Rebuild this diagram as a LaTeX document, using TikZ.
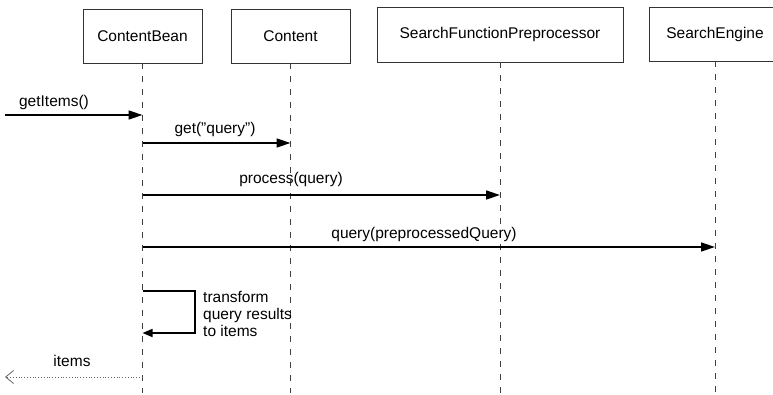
\documentclass[tikz,border=0pt]{standalone}
\usepackage{fontspec}
\setmainfont{Liberation Sans}
\usetikzlibrary{arrows.meta,positioning}

\begin{document}
\begin{tikzpicture}[
		x=1pt, y=-1pt,
		font=\fontsize{15.5}{17}\selectfont,
		object/.style={rectangle,draw=black!80,line width=0.8pt,minimum height=54pt,inner sep=0pt},
		lifeline/.style={draw=black!75,line width=1pt,dash pattern=on 6pt off 7pt},
		call/.style={line width=1.6pt,-{Triangle[length=14pt,width=9pt]}},
		selfcall/.style={line width=1.6pt,-{Triangle[length=10pt,width=8pt]}},
		reply/.style={draw=black!60,line width=0.8pt,dotted,-{Straight Barb[length=8pt,width=13pt]}},
		msglabel/.style={inner sep=1pt}
	]
	\useasboundingbox (0,0) rectangle (773,395);

	% objects
	\node[object,minimum width=119pt] (bean) at (142.5,36) {ContentBean};
	\node[object,minimum width=119pt] (content) at (290.5,36) {Content};
	\node[object,minimum width=246pt,minimum height=55pt] (prep) at (500,34.5) {SearchFunctionPreprocessor};
	\node[object,minimum width=132pt] (engine) at (715,34) {SearchEngine};

	% lifelines
	\coordinate (bottom) at (0,393);
	\draw[lifeline] (bean.south) -- (bean |- bottom);
	\draw[lifeline] (content.south) -- (content |- bottom);
	\draw[lifeline] (prep.south) -- (prep |- bottom);
	\draw[lifeline] (engine.south) -- (engine |- bottom);

	% messages
	\coordinate (caller) at (5,115);
	\draw[call] (caller) -- (bean |- caller);
	\node[msglabel] (getitems) at (54,102) {getItems()};

	\coordinate (m1) at (0,143);
	\draw[call] (bean |- m1) -- (content |- m1);
	\node[msglabel] (getquery) at (215,129) {get("query")};

	\coordinate (m2) at (0,195);
	\draw[call] (bean |- m2) -- (prep |- m2);
	\node[msglabel] (process) at (291,179) {process(query)};

	\coordinate (m3) at (0,247);
	\draw[call] (bean |- m3) -- (engine |- m3);
	\node[msglabel] (query) at (424,234) {query(preprocessedQuery)};

	\coordinate (selftop) at (195,291);
	\coordinate (selfbottom) at (195,333);
	\draw[selfcall] (bean |- selftop) -- (selftop) -- (selfbottom) -- (bean |- selfbottom);
	\node[anchor=north west,align=left,inner sep=0pt] (transform) at (203,291) {transform\\query results\\to items};

	\coordinate (returnend) at (5,377);
	\draw[reply] (bean |- returnend) -- (returnend);
	\node[msglabel] (items) at (72,361) {items};
\end{tikzpicture}
\end{document}
